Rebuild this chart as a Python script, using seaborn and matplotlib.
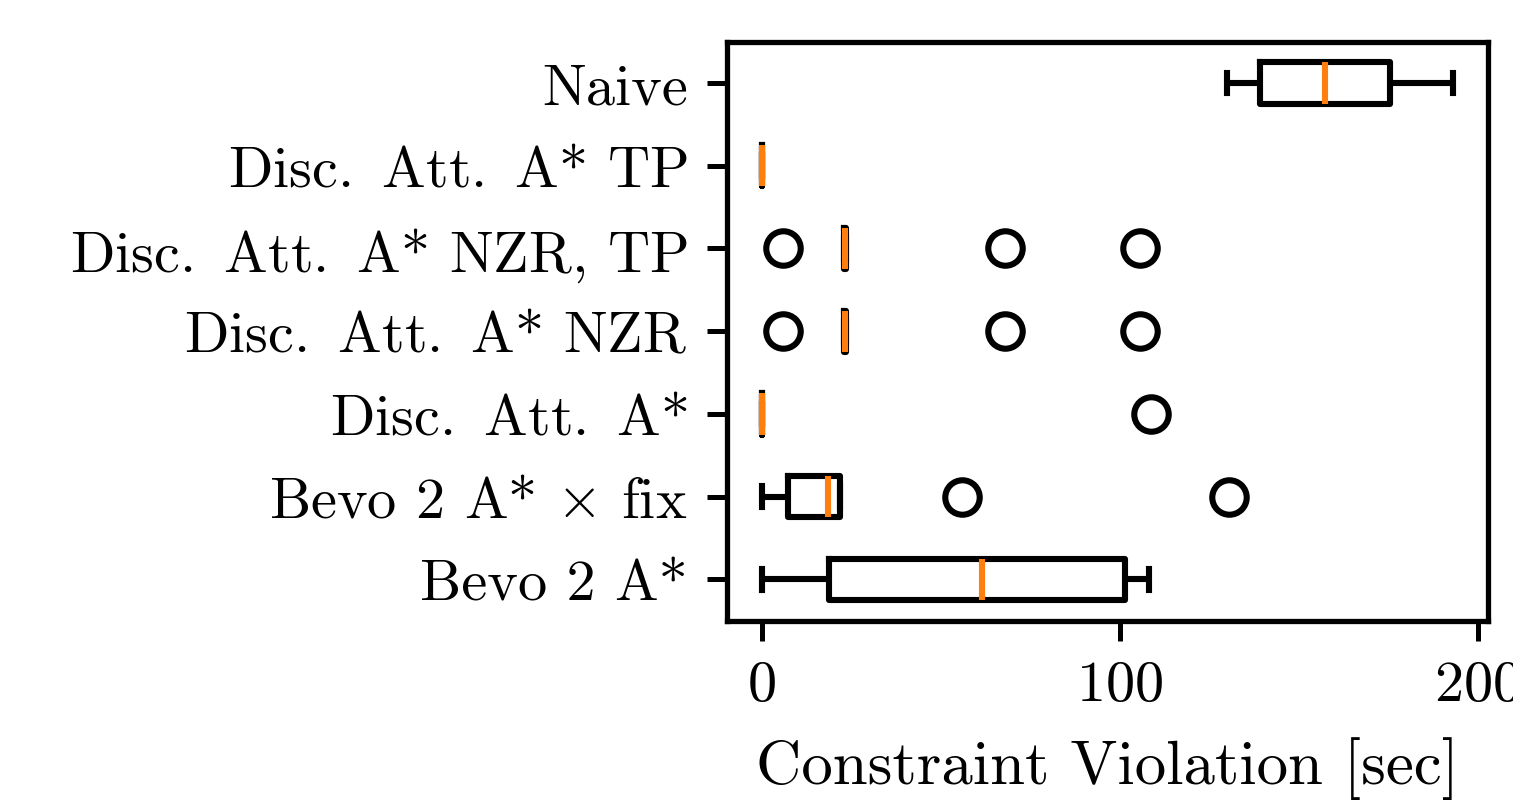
import pandas as pd
import matplotlib
matplotlib.use("Agg")
import matplotlib.pyplot as plt
import seaborn as sns

# values (seconds of constraint violation per run)
methods = [
    "Naive",
    r"Disc.$\,$ Att.$\,$ A* TP",
    r"Disc.$\,$ Att.$\,$ A* NZR, TP",
    r"Disc.$\,$ Att.$\,$ A* NZR",
    r"Disc.$\,$ Att.$\,$ A*",
    r"Bevo 2 A* $\times$ fix",
    "Bevo 2 A*",
]
naive = [130.0, 134.0, 139.2, 148.0, 157.3, 167.0, 175.4, 185.0, 193.0]
disc_tp = [0.0, 0.0, 0.0, 0.0, 0.0, 0.0, 0.0, 0.0, 0.0]
disc_nzr_tp = [6.0, 23.0, 23.0, 23.0, 23.2, 23.4, 23.4, 23.4, 23.5, 23.5, 23.5, 67.9, 105.6]
disc_nzr = [6.0, 23.0, 23.0, 23.0, 23.2, 23.4, 23.4, 23.4, 23.5, 23.5, 23.5, 67.9, 105.6]
disc = [0.0, 0.0, 0.0, 0.0, 0.0, 0.0, 0.0, 0.0, 108.8]
bevo_fix = [0.0, 3.0, 7.5, 14.0, 18.5, 21.0, 22.0, 56.0, 130.5]
bevo = [0.0, 9.0, 18.7, 40.0, 61.5, 85.0, 101.5, 105.0, 108.2]

series = [naive, disc_tp, disc_nzr_tp, disc_nzr, disc, bevo_fix, bevo]

# long-form table for seaborn
rows = []
for name, vals in zip(methods, series):
    for v in vals:
        rows.append({"Method": name, "Violation": v})
df = pd.DataFrame(rows)

plt.rcParams["font.family"] = "serif"
plt.rcParams["font.serif"] = ["cmr10"]
plt.rcParams["mathtext.fontset"] = "cm"
plt.rcParams["axes.formatter.use_mathtext"] = True
plt.rcParams["font.size"] = 10.5

fig, ax = plt.subplots(figsize=(1513 / 400, 803 / 400), dpi=400)
fig.subplots_adjust(left=0.4805, right=0.9832, top=0.9468, bottom=0.2258)

sns.boxplot(
    data=df, x="Violation", y="Method", order=methods, orient="h",
    fill=False, color="black", linecolor="black", linewidth=1.1,
    width=0.5, whis=1.5, ax=ax,
    medianprops=dict(color="#ff7f0e", linewidth=1.1),
    flierprops=dict(marker="o", markerfacecolor="none", markeredgecolor="black",
                    markersize=6.2, markeredgewidth=1.1),
)

ax.set_xlim(-9.65, 202.65)
ax.set_xticks([0, 100, 200])
ax.set_ylabel("")
ax.set_xlabel("Constraint Violation [sec]", fontsize=11.3, labelpad=4.5)
ax.tick_params(axis="both", labelsize=10.5, width=0.9, length=3.6)
for s in ax.spines.values():
    s.set_visible(True)
    s.set_linewidth(0.95)

fig.savefig("out.png", dpi=400)
